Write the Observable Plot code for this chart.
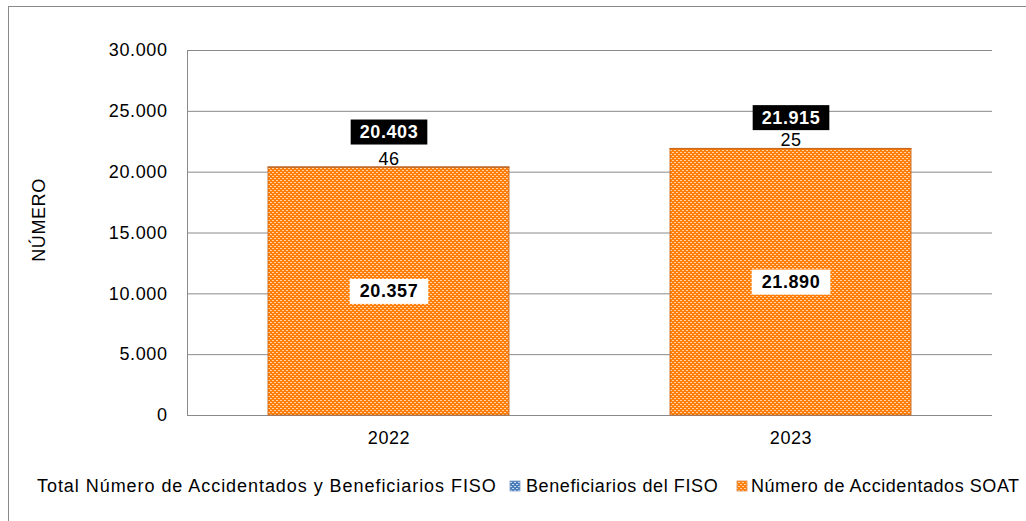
<!DOCTYPE html>
<html>
<head>
<meta charset="utf-8">
<script src="https://cdn.jsdelivr.net/npm/d3@7"></script>
<script src="https://cdn.jsdelivr.net/npm/@observablehq/plot@0.6"></script>
<style>
  html, body { margin: 0; padding: 0; background: #fff; }
  body { width: 1026px; height: 521px; position: relative; overflow: hidden; font-family: "Liberation Sans", Arial, sans-serif; }
  #frame { position: absolute; left: 8px; top: 6px; width: 1100px; height: 600px; border: 1px solid #8a8a8a; box-sizing: border-box; }
  #chart { position: absolute; left: 0; top: 0; }
  #overlay { position: absolute; left: 0; top: 0; pointer-events: none; }
</style>
</head>
<body>
<svg width="0" height="0" style="position:absolute">
  <defs>
    <pattern id="pOrange" width="4" height="4" patternUnits="userSpaceOnUse">
      <rect width="4" height="4" fill="#ff7f0a"></rect>
      <rect x="0" y="0" width="2" height="1" fill="#ffd2a4"></rect>
      <rect x="2" y="2" width="2" height="1" fill="#ffd2a4"></rect>
    </pattern>
    <pattern id="pBlue" width="4" height="4" patternUnits="userSpaceOnUse">
      <rect width="4" height="4" fill="#4a7ebb"></rect>
      <rect x="0" y="0" width="2" height="1" fill="#c6d9f1"></rect>
      <rect x="2" y="2" width="2" height="1" fill="#c6d9f1"></rect>
    </pattern>
  </defs>
</svg>
<div id="frame"></div>
<div id="chart"></div>
<svg id="overlay" width="1026" height="521"></svg>
<script>
// ---- data ----
const years = ["2022", "2023"];
const soat = [20357, 21890];          // Número de Accidentados SOAT
const fiso = [46, 25];                // Beneficiarios del FISO
const totals = [20403, 21915];        // Total Número de Accidentados y Beneficiarios FISO
const seriesNames = ["Total Número de Accidentados y Beneficiarios FISO", "Beneficiarios del FISO", "Número de Accidentados SOAT"];
const yTicks = [0, 5000, 10000, 15000, 20000, 25000, 30000];
const yLabel = "NÚMERO";

const fmt = d3.formatLocale({decimal: ",", thousands: ".", grouping: [3], currency: ["", ""]}).format(",d");

const rows = years.flatMap((yr, i) => [
  {year: yr, serie: "SOAT", value: soat[i]},
  {year: yr, serie: "FISO", value: fiso[i]}
]);
const idx = years.map((_, i) => i);
const totalDy = [-35, -31];

const chart = Plot.plot({
  width: 1026,
  height: 521,
  marginLeft: 187,
  marginRight: 34,
  marginTop: 50,
  marginBottom: 106,
  style: {fontFamily: '"Liberation Sans", Arial, sans-serif', fontSize: "18px", background: "transparent", color: "#000", letterSpacing: "0.6px"},
  x: {domain: years, paddingInner: 0.4, paddingOuter: 0.2, label: null},
  y: {domain: [0, 30000], label: null},
  color: {domain: ["SOAT", "FISO"], range: ["url(#pOrange)", "url(#pBlue)"]},
  marks: [
    Plot.ruleY(yTicks, {stroke: "#8a8a8a", strokeWidth: 1}),
    Plot.barY(rows, {x: "year", y: "value", fill: "serie", stroke: "#c8661c", strokeWidth: 0.9, inset: 0}),
    Plot.frame({anchor: "left", stroke: "#8a8a8a"}),
    Plot.axisY({ticks: yTicks, tickFormat: fmt, tickSize: 0, tickPadding: 20, label: null, fontSize: 18}),
    Plot.axisX({tickSize: 0, tickPadding: 16, label: null, fontSize: 18}),
    // [text 0] inner SOAT labels
    Plot.text(idx, {x: i => years[i], y: i => soat[i] / 2, text: i => fmt(soat[i]), fill: "#000", fontWeight: "bold", fontSize: 18}),
    // [text 1] FISO labels
    Plot.text(idx, {x: i => years[i], y: i => totals[i], text: i => fmt(fiso[i]), fill: "#000", fontSize: 18, dy: -8.5}),
    // [text 2, 3] total labels
    ...idx.map(k => Plot.text([k], {x: i => years[i], y: i => totals[i], text: i => fmt(totals[i]), fill: "#fff", fontWeight: "bold", fontSize: 18, dy: totalDy[k]}))
  ]
});
document.getElementById("chart").appendChild(chart);

// boxes behind labels
function boxes(group, fill, padX, h) {
  group.querySelectorAll("text").forEach(t => {
    const b = t.getBBox();
    const w = b.width + 2 * padX;
    const cx = b.x + b.width / 2, cy = b.y + b.height / 2;
    const r = document.createElementNS("http://www.w3.org/2000/svg", "rect");
    r.setAttribute("x", cx - w / 2);
    r.setAttribute("y", cy - h / 2);
    r.setAttribute("width", w);
    r.setAttribute("height", h);
    r.setAttribute("fill", fill);
    r.setAttribute("stroke", "none");
    const tr = t.getAttribute("transform");
    if (tr) r.setAttribute("transform", tr);
    t.parentNode.insertBefore(r, t);
  });
}
const textGroups = chart.querySelectorAll('g[aria-label="text"]');
boxes(textGroups[0], "#fff", 10, 25);
boxes(textGroups[2], "#000", 9, 25);
boxes(textGroups[3], "#000", 9, 25);

// overlay: y label and legend
const ov = d3.select("#overlay")
  .style("font-family", '"Liberation Sans", Arial, sans-serif')
  .style("font-size", "18px")
  .style("letter-spacing", "0.6px");
ov.append("text").attr("transform", "translate(45,220) rotate(-90)").attr("text-anchor", "middle").attr("fill", "#000").text(yLabel);

const legendY = 492;
ov.append("text").attr("x", 37).attr("y", legendY).style("letter-spacing", "0.95px").text(seriesNames[0]);
ov.append("rect").attr("x", 510).attr("y", 481).attr("width", 10).attr("height", 10).attr("fill", "url(#pBlue)").attr("stroke", "#7f9fc8").attr("stroke-width", 0.8);
ov.append("text").attr("x", 526).attr("y", legendY).text(seriesNames[1]);
ov.append("rect").attr("x", 737).attr("y", 481).attr("width", 10).attr("height", 10).attr("fill", "url(#pOrange)").attr("stroke", "#d9894a").attr("stroke-width", 0.8);
ov.append("text").attr("x", 751).attr("y", legendY).style("letter-spacing", "0.55px").text(seriesNames[2]);
</script>
</body>
</html>
